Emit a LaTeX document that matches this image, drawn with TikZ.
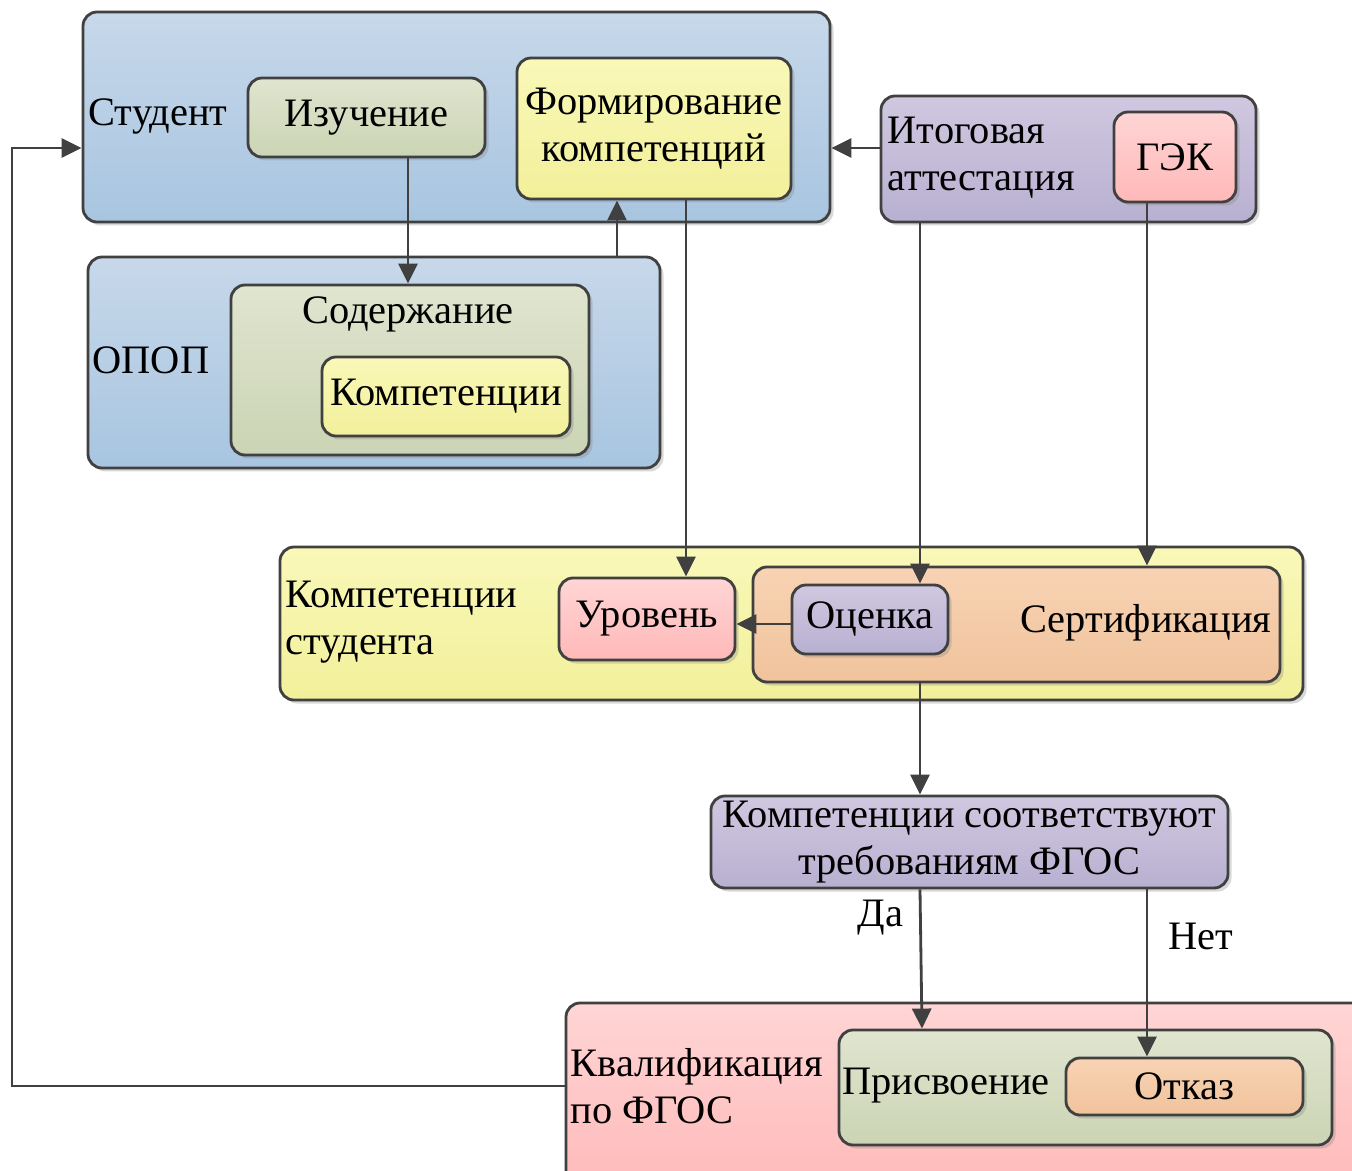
\documentclass[tikz,border=0pt]{standalone}
\usepackage{fontspec}
\setmainfont{Liberation Serif}
\usetikzlibrary{shadows,arrows.meta}
\definecolor{linec}{HTML}{404040}
\tikzset{
  box/.style={draw=linec, line width=0.8pt, rounded corners=1.4mm, inner sep=0pt,
    align=center, font=\fontsize{11.5}{13.4}\selectfont,
    drop shadow={shadow xshift=0.35mm, shadow yshift=-0.35mm, opacity=0.3, fill=gray}},
  bluebox/.style={box, top color={rgb,255:red,199;green,216;blue,234}, bottom color={rgb,255:red,168;green,197;blue,224}},
  greenbox/.style={box, top color={rgb,255:red,224;green,229;blue,207}, bottom color={rgb,255:red,203;green,212;blue,180}},
  yellowbox/.style={box, top color={rgb,255:red,249;green,248;blue,184}, bottom color={rgb,255:red,242;green,240;blue,154}},
  purplebox/.style={box, top color={rgb,255:red,208;green,200;blue,224}, bottom color={rgb,255:red,184;green,176;blue,208}},
  pinkbox/.style={box, top color={rgb,255:red,255;green,213;blue,213}, bottom color={rgb,255:red,255;green,184;blue,184}},
  orangebox/.style={box, top color={rgb,255:red,248;green,211;blue,180}, bottom color={rgb,255:red,240;green,195;blue,156}},
  txt/.style={inner sep=0pt, align=left, font=\fontsize{11.5}{13.4}\selectfont},
  arr/.style={draw=linec, line width=0.8pt, -{Triangle[length=2mm, width=1.9mm]}}
}
\begin{document}
\begin{tikzpicture}[x=0.1mm, y=-0.1mm]
\clip (0,0) rectangle (1352,1171);
\fill[white] (0,0) rectangle (1352,1171);

% student
\node[bluebox, minimum width=74.7mm, minimum height=21mm] (stud) at (456.5,117) {};
\node[txt] (studt) at (158,116) {Студент};
\node[greenbox, minimum width=23.7mm, minimum height=7.9mm] (izuch) at (366.5,117.5) {Изучение};
\node[yellowbox, minimum width=27.4mm, minimum height=14.1mm] (form) at (654,128.5) {Формирование\\компетенций};

% opop
\node[bluebox, minimum width=57.2mm, minimum height=21.1mm] (opop) at (374,362.5) {};
\node[txt] (opopt) at (151,360) {ОПОП};
\node[greenbox, minimum width=35.8mm, minimum height=17mm] (sod) at (410,370) {};
\node[txt] (sodt) at (408,314) {Содержание};
\node[yellowbox, minimum width=24.8mm, minimum height=7.9mm] (komp) at (446,396.5) {Компетенции};

% attestation
\node[purplebox, minimum width=37.5mm, minimum height=12.6mm] (itog) at (1068.5,159) {};
\node[txt, anchor=west] (itogt) at (887,158) {Итоговая\\аттестация};
\node[pinkbox, minimum width=12.2mm, minimum height=9mm] (gek) at (1175,157) {ГЭК};

% student competences
\node[yellowbox, minimum width=102.3mm, minimum height=15.3mm] (kst) at (791.5,623.5) {};
\node[txt, anchor=west] (kstt) at (285,622) {Компетенции\\студента};
\node[pinkbox, minimum width=17.6mm, minimum height=8.2mm] (urov) at (647,619) {Уровень};
\node[orangebox, minimum width=52.7mm, minimum height=11.5mm] (sert) at (1016.5,624.5) {};
\node[txt] (sertt) at (1146,623) {Сертификация};
\node[purplebox, minimum width=15.6mm, minimum height=6.9mm] (ocen) at (870,619.5) {Оценка};

% check
\node[purplebox, minimum width=51.7mm, minimum height=9.2mm] (fgos) at (969.5,842) {Компетенции соответствуют\\требованиям ФГОС};

% qualification
\node[pinkbox, minimum width=81.4mm, minimum height=19.7mm] (kval) at (973,1101.5) {};
\node[txt, anchor=west] (kvalt) at (570,1086) {Квалификация\\по ФГОС};
\node[greenbox, minimum width=49.3mm, minimum height=11.5mm] (pris) at (1085.5,1087.5) {};
\node[txt] (prist) at (946,1086) {Присвоение};
\node[orangebox, minimum width=23.7mm, minimum height=5.7mm] (otk) at (1184.5,1086.5) {Отказ};

% arrows
\coordinate (back) at (12,1086);
\draw[arr] (kval.west |- back) -- (back) |- (stud.west |- 0,148);
\draw[arr] (408,0 |- izuch.south) -- (408,0 |- sod.north);
\draw[arr] (617,0 |- opop.north) -- (617,0 |- form.south);
\draw[arr] (686,0 |- form.south) -- (686,0 |- urov.north);
\draw[arr] (itog.west |- 0,148) -- (stud.east |- 0,148);
\draw[arr] (920,0 |- itog.south) -- (920,0 |- ocen.north);
\draw[arr] (1147,0 |- gek.south) -- (1147,0 |- sert.north);
\draw[arr] (ocen.west |- 0,624) -- (urov.east |- 0,624);
\draw[arr] (920,0 |- sert.south) -- (920,0 |- fgos.north);
\draw[arr] (920,0 |- fgos.south) -- node[txt, left=1.6mm, pos=0.2] (da) {Да} (922,0 |- pris.north);
\draw[arr] (1147,0 |- fgos.south) -- node[txt, right=2mm, pos=0.28] (net) {Нет} (1147,0 |- otk.north);
\end{tikzpicture}
\end{document}
